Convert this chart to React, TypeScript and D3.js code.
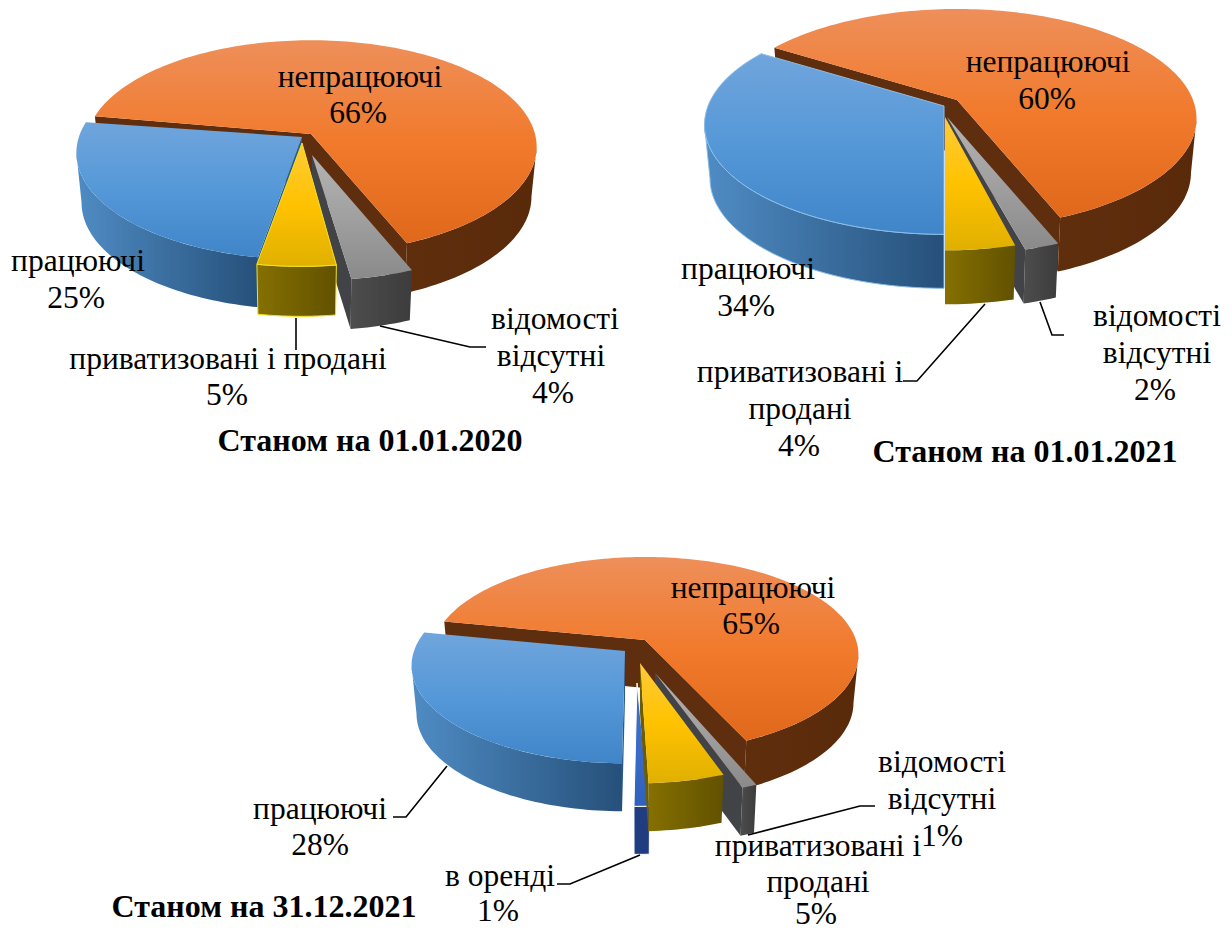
import React, { useEffect, useRef } from "react";
import * as d3 from "d3";

// clockwise order, starting at the orange slice
const categories2020 = ["непрацюючі", "відомості відсутні", "приватизовані і продані", "працюючі"];
const values2020 = [66, 4, 5, 25];
const categories2021 = ["непрацюючі", "відомості відсутні", "приватизовані і продані", "працюючі"];
const values2021 = [60, 2, 4, 34];
const categoriesEnd2021 = ["непрацюючі", "відомості відсутні", "приватизовані і продані", "в оренді", "працюючі"];
const valuesEnd2021 = [65, 1, 5, 1, 28];

const titles = ["Станом на 01.01.2020", "Станом на 01.01.2021", "Станом на 31.12.2021"];

const colors: any = {
  "непрацюючі": { top: ["#ee8f5a", "#f17a2c", "#e0681b"], wall: ["#5f2e0d", "#592a0a"], face: "#5f2e0f" },
  "відомості відсутні": { top: ["#b4b4b4", "#a0a0a0", "#8a8a8a"], wall: ["#4d4d4d", "#3c3c3c"], face: "#414346" },
  "приватизовані і продані": { top: ["#ffcb3a", "#ffc200", "#e0b000"], wall: ["#857000", "#625100"], face: "#6e5c00" },
  "працюючі": { top: ["#70a5dc", "#5598d8", "#3f85c8"], wall: ["#4f8cc4", "#26507a"], face: "#2a5a8a" },
  "в оренді": { top: ["#3a6cc8", "#3a6cc8", "#2f62bc"], wall: ["#1f3d80", "#1f3d80"], face: "#1f3d80" },
};

// layout of each pie: projection of the disc, explosion of each slice and where its tip lands
const pies = [
  {
    categories: categories2020,
    values: values2020,
    apex: [311, 134],
    R: 224,
    kR: 105,
    p: 0.12,
    depth: 50,
    start: 280,
    offsets: [[0, 0], [5, 27], [-10, 13], [-9, 6]],
    tips: [[0, 0], [1, 21], [-9, 9], [-9, 3]],
    order: [0, 3, 1, 2],
    stroke: { "приватизовані і продані": "#f4e21e" } as any,
  },
  {
    categories: categories2021,
    values: values2021,
    apex: [957, 100],
    R: 236,
    kR: 106.5,
    p: 0.17,
    depth: 54,
    start: 302.4,
    offsets: [[0, 0], [-2, 26], [-12, 22], [-13, 6]],
    tips: [[0, 0], [-10, 17], [-12, 17], [-13, 6]],
    order: [0, 3, 1, 2],
    stroke: { "працюючі": "#8dbde8" } as any,
  },
  {
    categories: categoriesEnd2021,
    values: valuesEnd2021,
    apex: [645, 640],
    R: 211,
    kR: 95.5,
    p: 0.15,
    depth: 48,
    start: 281.5,
    offsets: [[0, 0], [10, 44], [-9, 31], [-8, 54], [-20, 11]],
    tips: [[0, 0], [10, 33], [-5, 23], [-8, 43], [-20, 11]],
    order: [0, 4, 1, 3, 2],
    stroke: { "в оренді": "#ffffff" } as any,
  },
];

// text: [string, centre x, baseline y]
const labels: [string, number, number][] = [
  ["непрацюючі", 360, 87],
  ["66%", 358, 123],
  ["працюючі", 78, 271],
  ["25%", 76, 308],
  ["приватизовані і продані", 228, 369],
  ["5%", 227, 405],
  ["відомості", 555, 329],
  ["відсутні", 551, 366],
  ["4%", 553, 403],
  ["непрацюючі", 1048, 72],
  ["60%", 1047, 109],
  ["працюючі", 748, 279],
  ["34%", 746, 316],
  ["відомості", 1157, 326],
  ["відсутні", 1157, 363],
  ["2%", 1155, 400],
  ["приватизовані і", 800, 382],
  ["продані", 800, 419],
  ["4%", 799, 456],
  ["непрацюючі", 753, 598],
  ["65%", 751, 634],
  ["працюючі", 320, 819],
  ["28%", 320, 855],
  ["в оренді", 500, 886],
  ["1%", 498, 921],
  ["приватизовані і", 818, 856],
  ["продані", 818, 892],
  ["5%", 816, 924],
  ["відомості", 942, 772],
  ["відсутні", 942, 809],
  ["1%", 942, 846],
];

const titlePos = [[370, 451], [1025, 462], [264, 917]];

const leaders = [
  [[296, 318], [296, 350]],
  [[380, 326], [470, 347], [486, 347]],
  [[985, 304], [917, 381], [903, 381]],
  [[1040, 302], [1052, 335], [1064, 335]],
  [[447, 766], [406, 817], [393, 817]],
  [[640, 855], [570, 884], [557, 884]],
  [[748, 835], [860, 806], [875, 806]],
];

export default function App() {
  const ref = useRef<SVGSVGElement>(null);

  useEffect(() => {
    const svg = d3.select(ref.current);
    svg.selectAll("*").remove();
    const defs = svg.append("defs");
    const keys = Object.keys(colors);

    keys.forEach((key, i) => {
      const top = defs.append("linearGradient").attr("id", "top" + i).attr("x1", 0).attr("y1", 0).attr("x2", 0).attr("y2", 1);
      colors[key].top.forEach((c: string, j: number) => top.append("stop").attr("offset", j / 2).attr("stop-color", c));
      const wall = defs.append("linearGradient").attr("id", "wall" + i);
      colors[key].wall.forEach((c: string, j: number) => wall.append("stop").attr("offset", j).attr("stop-color", c));
    });

    const line = d3.line();

    pies.forEach((pie) => {
      const arcs = d3
        .pie<number>()
        .sort(null)
        .startAngle((pie.start * Math.PI) / 180)
        .endAngle((pie.start * Math.PI) / 180 + 2 * Math.PI)(pie.values);

      const g = svg.append("g");
      // the rim is widest on screen here, only the arc between these two angles shows a wall
      const nearFrom = Math.acos(-pie.p);
      const nearTo = 2 * Math.PI - nearFrom;

      pie.order.forEach((idx) => {
        const a = arcs[idx];
        const key = pie.categories[idx];
        const ci = keys.indexOf(key);
        const off = pie.offsets[idx];

        // disc point to screen, the near edge comes out bigger than the far one
        const project = (theta: number): [number, number] => {
          const u = Math.sin(theta);
          const v = -Math.cos(theta);
          const w = 1 - pie.p * v;
          return [pie.apex[0] + off[0] + (pie.R * u) / w, pie.apex[1] + off[1] + (pie.kR * v) / w];
        };
        const cx = pie.apex[0] + off[0];
        // the underside is a little smaller, it is further from the camera
        const down = (pt: [number, number]): [number, number] => [cx + (pt[0] - cx) * 0.977, pt[1] + pie.depth];
        const sample = (from: number, to: number) => {
          const steps = Math.max(4, Math.ceil((to - from) * 40));
          return d3.range(steps + 1).map((i) => project(from + ((to - from) * i) / steps));
        };

        const rim = sample(a.startAngle, a.endAngle);
        const tip: [number, number] = [pie.apex[0] + pie.tips[idx][0], pie.apex[1] + pie.tips[idx][1]];
        const stroke = (pie.stroke as any)[key];

        [0, 2 * Math.PI].forEach((turn) => {
          const from = Math.max(a.startAngle, nearFrom + turn);
          const to = Math.min(a.endAngle, nearTo + turn);
          if (to <= from) return;
          const front = sample(from, to);
          g.append("path")
            .attr("d", line([...front, ...front.map(down).reverse()]) + "Z")
            .attr("fill", `url(#wall${ci})`)
            .attr("stroke", stroke || "none")
            .attr("stroke-width", stroke ? 1 : 0);
        });

        // cut faces, only those that look at the viewer
        const faces: [number, boolean][] = [
          [a.startAngle, Math.sin(a.startAngle) < 0],
          [a.endAngle, Math.sin(a.endAngle) > 0],
        ];
        faces.forEach(([theta, visible]) => {
          if (!visible) return;
          const corner = project(theta);
          g.append("path")
            .attr("d", line([tip, corner, down(corner), down(tip)]) + "Z")
            .attr("fill", colors[key].face);
        });

        g.append("path")
          .attr("d", line([tip, ...rim]) + "Z")
          .attr("fill", `url(#top${ci})`)
          .attr("stroke", stroke || "none")
          .attr("stroke-width", stroke ? 1 : 0);
      });
    });

    svg
      .selectAll("polyline")
      .data(leaders)
      .enter()
      .append("polyline")
      .attr("points", (d: any) => d.join(" "))
      .attr("fill", "none")
      .attr("stroke", "#000")
      .attr("stroke-width", 1.6);

    svg
      .selectAll("text.label")
      .data(labels)
      .enter()
      .append("text")
      .attr("class", "label")
      .attr("x", (d) => d[1])
      .attr("y", (d) => d[2])
      .attr("text-anchor", "middle")
      .style("font-family", "'Liberation Serif', serif")
      .style("font-size", "31.5px")
      .attr("fill", "#000")
      .text((d) => d[0]);

    svg
      .selectAll("text.title")
      .data(titles)
      .enter()
      .append("text")
      .attr("class", "title")
      .attr("x", (_, i) => titlePos[i][0])
      .attr("y", (_, i) => titlePos[i][1])
      .attr("text-anchor", "middle")
      .style("font-family", "'Liberation Serif', serif")
      .style("font-size", "32px")
      .style("font-weight", "bold")
      .attr("fill", "#000")
      .text((d) => d);
  }, []);

  return (
    <svg
      ref={ref}
      width={1232}
      height={931}
      viewBox="0 0 1232 931"
      style={{ position: "absolute", left: 0, top: 0, display: "block", background: "#fff" }}
    />
  );
}
